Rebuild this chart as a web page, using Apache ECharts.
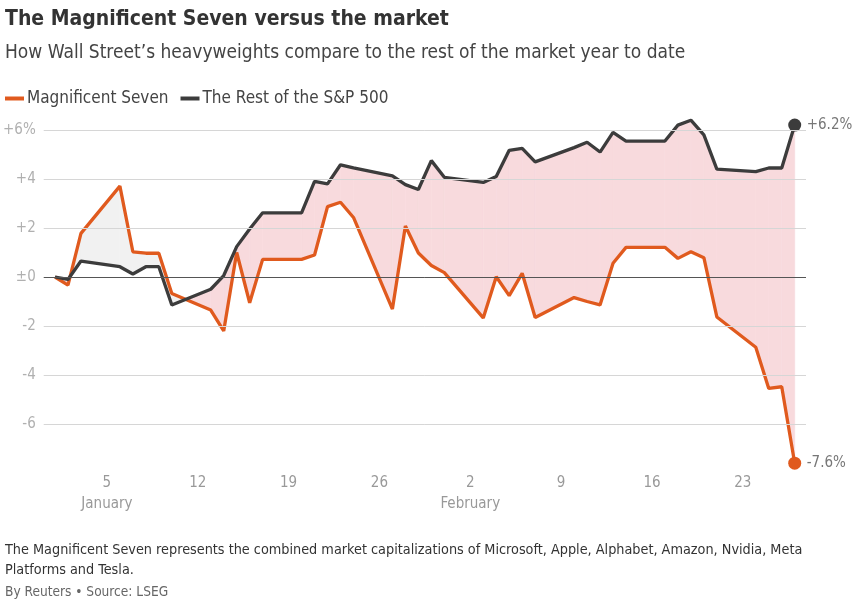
<!DOCTYPE html>
<html><head><meta charset="utf-8">
<script src="https://cdn.jsdelivr.net/npm/echarts@6/dist/echarts.min.js"></script>
<style>html,body{margin:0;padding:0;background:#fff}#c{width:852px;height:600px}</style>
</head><body><div id="c"></div>
<script>
const dates = ['2025-01-01','2025-01-02','2025-01-03','2025-01-06','2025-01-07','2025-01-08','2025-01-09','2025-01-10',
  '2025-01-13','2025-01-14','2025-01-15','2025-01-16','2025-01-17','2025-01-20','2025-01-21','2025-01-22','2025-01-23','2025-01-24',
  '2025-01-27','2025-01-28','2025-01-29','2025-01-30','2025-01-31','2025-02-03','2025-02-04','2025-02-05','2025-02-06','2025-02-07',
  '2025-02-10','2025-02-11','2025-02-12','2025-02-13','2025-02-14','2025-02-17','2025-02-18','2025-02-19','2025-02-20','2025-02-21',
  '2025-02-24','2025-02-25','2025-02-26','2025-02-27'];
const magSeven = [0,-0.33,1.78,3.71,1.03,0.97,0.97,-0.67,
  -1.35,-2.2,1.0,-1.05,0.72,0.72,0.9,2.87,3.05,2.43,
  -1.31,2.08,0.98,0.47,0.18,-1.67,0.01,-0.76,0.15,-1.65,
  -0.84,-1.0,-1.14,0.56,1.21,1.21,0.76,1.03,0.79,-1.63,
  -2.87,-4.55,-4.48,-7.6];
const restOfSP = [0,-0.1,0.65,0.42,0.12,0.42,0.42,-1.14,
  -0.5,0.06,1.24,1.96,2.62,2.62,3.9,3.8,4.58,4.45,
  4.13,3.77,3.57,4.75,4.07,3.86,4.1,5.17,5.25,4.7,
  5.28,5.5,5.1,5.9,5.55,5.55,6.2,6.4,5.8,4.4,
  4.3,4.45,4.45,6.2];
const xTickDates = ['2025-01-05','2025-01-12','2025-01-19','2025-01-26','2025-02-02','2025-02-09','2025-02-16','2025-02-23'];
const xTickLabels = ['5','12','19','26','2','9','16','23'];
const monthLabels = {'5':'January','2':'February'};
const yTickValues = [-6,-4,-2,0,2,4,6];
const yTickLabels = ['-6','-4','-2','±0','+2','+4','+6%'];

const FONT = "'Liberation Sans Narrow','DejaVu Sans Condensed','Roboto Condensed','Liberation Sans',sans-serif";
const ORANGE = '#e05a1e', DARK = '#3c3c3c';
const base = Date.UTC(2025,0,1);
const dayOf = d => { const p = d.split('-').map(Number); return (Date.UTC(p[0],p[1]-1,p[2]) - base) / 86400000; };
const xs = dates.map(dayOf);
const xTicks = xTickDates.map(dayOf);
const magData = xs.map((x,i)=>[x, magSeven[i]]);
const restData = xs.map((x,i)=>[x, restOfSP[i]]);
const n = xs.length;
const fmtPct = v => (v>0?'+':'') + v.toFixed(1) + '%';
const PINK = '#f8dadd', GREY = '#f1f1f1';

function renderFill(params, api) {
  const i = api.value(2);
  if (i >= n-1) return;
  const x0 = xs[i], x1 = xs[i+1];
  const a0 = restOfSP[i], a1 = restOfSP[i+1], b0 = magSeven[i], b1 = magSeven[i+1];
  const d0 = a0-b0, d1 = a1-b1;
  const C = p => api.coord(p);
  const poly = (pts, col) => ({type:'polygon', shape:{points:pts}, style:{fill:col, stroke:col, lineWidth:0.6}});
  const colFor = d => d >= 0 ? PINK : GREY;
  if (d0*d1 < 0) {
    const t = d0/(d0-d1);
    const xc = x0 + t*(x1-x0), yc = a0 + t*(a1-a0);
    return {type:'group', children:[
      poly([C([x0,a0]), C([xc,yc]), C([x0,b0])], colFor(d0)),
      poly([C([xc,yc]), C([x1,a1]), C([x1,b1])], colFor(d1))
    ]};
  }
  return poly([C([x0,a0]), C([x1,a1]), C([x1,b1]), C([x0,b0])], colFor(d0+d1));
}

const chart = echarts.init(document.getElementById('c'), null, {renderer:'canvas'});
chart.setOption({
  animation:false,
  backgroundColor:'#fff',
  textStyle:{fontFamily:FONT},
  title:[
    {text:'The Magnificent Seven versus the market', left:0, top:4, textStyle:{fontFamily:FONT, fontWeight:'bold', fontSize:21, color:'#333'}},
    {text:'How Wall Street\u2019s heavyweights compare to the rest of the market year to date', left:0, top:39, textStyle:{fontFamily:FONT, fontWeight:'normal', fontSize:19, color:'#444'}},
    {text:'The Magnificent Seven represents the combined market capitalizations of Microsoft, Apple, Alphabet, Amazon, Nvidia, Meta\nPlatforms and Tesla.', left:0, top:535, textStyle:{fontFamily:FONT, fontWeight:'normal', fontSize:14.3, lineHeight:20, color:'#333'}},
    {text:'By Reuters \u2022 Source: LSEG', left:0, top:580, textStyle:{fontFamily:FONT, fontWeight:'normal', fontSize:13.6, color:'#666'}}
  ],
  legend:{left:0, top:85, icon:'rect', itemWidth:19, itemHeight:4, itemGap:12,
    data:['Magnificent Seven','The Rest of the S&P 500'],
    textStyle:{fontFamily:FONT, fontSize:17, color:'#444', padding:[0,0,0,-2]}},
  grid:{left:40, right:46, top:117.75, bottom:127, containLabel:false},
  xAxis:{type:'value', min:-0.87, max:57.87,
    axisLine:{show:false}, axisTick:{show:false}, splitLine:{show:false},
    axisLabel:{customValues:xTicks, margin:0, color:'#999', fontSize:15, lineHeight:21, fontFamily:FONT,
      formatter:v=>{ const k = xTicks.findIndex(t=>Math.abs(t-v)<1e-6); if(k<0) return ''; const l = xTickLabels[k]; return monthLabels[l] ? l+'\n'+monthLabels[l] : l; }}},
  yAxis:{type:'value', min:-8, max:6.5,
    axisLine:{show:false}, axisTick:{show:false}, splitLine:{show:false},
    axisLabel:{customValues:yTickValues, margin:8, color:'#b0b0b0', fontSize:15, fontFamily:FONT,
      formatter:v=>{ const k = yTickValues.indexOf(v); return k<0 ? '' : yTickLabels[k]; }}},
  series:[
    {type:'custom', name:'fill', renderItem:renderFill, z:1, silent:true,
      encode:{x:0, y:1}, data:xs.map((x,i)=>[x, restOfSP[i], i])},
    {type:'line', name:'grid', z:2, silent:true, data:[], symbol:'none',
      markLine:{silent:true, symbol:'none', label:{show:false}, animation:false,
        data:yTickValues.map(v=>({yAxis:v, lineStyle:{color: v===0 ? '#555' : '#d6d6d6', width:1, type:'solid'}}))}},
    {type:'line', name:'Magnificent Seven', z:3, data:magData, symbol:'none', color:ORANGE,
      lineStyle:{width:3.3, color:ORANGE},
      endLabel:{show:true, formatter:p=>fmtPct(p.value[1]), color:'#777', fontSize:15, fontFamily:FONT, distance:12}},
    {type:'line', name:'The Rest of the S&P 500', z:3, data:restData, symbol:'none', color:DARK,
      lineStyle:{width:3.3, color:DARK},
      endLabel:{show:true, formatter:p=>fmtPct(p.value[1]), color:'#777', fontSize:15, fontFamily:FONT, distance:12}},
    {type:'scatter', name:'ends', z:4, silent:true, symbolSize:13,
      data:[{value:magData[n-1], itemStyle:{color:ORANGE, opacity:1}}, {value:restData[n-1], itemStyle:{color:DARK, opacity:1}}]}
  ]
});
</script></body></html>
